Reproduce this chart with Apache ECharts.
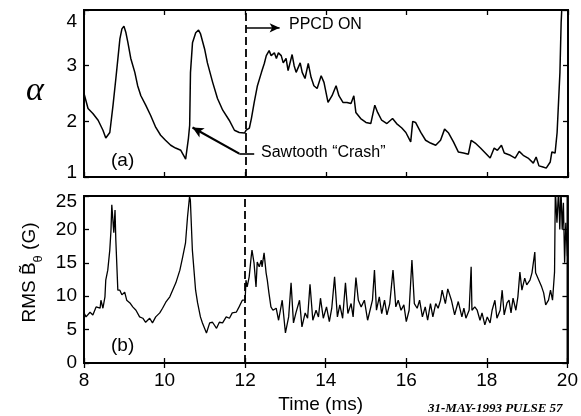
<!DOCTYPE html>
<html>
<head>
<meta charset="utf-8">
<script src="https://cdn.jsdelivr.net/npm/echarts@6/dist/echarts.min.js"></script>
<style>
  html, body { margin: 0; padding: 0; background: #fff; }
  #chart { width: 581px; height: 416px; }
</style>
</head>
<body>
<div id="chart"></div>
<script>
// panel (a): alpha vs time (ms)
var alphaTime = [8.00, 8.10, 8.22, 8.35, 8.47, 8.54, 8.64, 8.72, 8.79, 8.89, 8.94, 8.99, 9.04, 9.09, 9.16, 9.26, 9.33, 9.41, 9.53, 9.65,
  9.78, 9.90, 10.02, 10.15, 10.27, 10.40, 10.49, 10.52, 10.59, 10.62, 10.64, 10.69, 10.77, 10.84, 10.89, 10.99, 11.06, 11.19, 11.31, 11.44,
  11.60, 11.73, 11.85, 11.98, 12.02, 12.10, 12.15, 12.22, 12.30, 12.40, 12.47, 12.52, 12.59, 12.64, 12.72, 12.77, 12.82, 12.89, 12.94, 13.01,
  13.06, 13.16, 13.21, 13.26, 13.36, 13.41, 13.48, 13.56, 13.63, 13.70, 13.78, 13.88, 13.95, 14.05, 14.15, 14.25, 14.32, 14.42, 14.52, 14.62,
  14.69, 14.74, 14.86, 14.99, 15.11, 15.21, 15.28, 15.38, 15.51, 15.65, 15.75, 15.88, 15.98, 16.10, 16.15, 16.22, 16.35, 16.47, 16.59, 16.72,
  16.84, 16.94, 17.04, 17.16, 17.28, 17.41, 17.53, 17.60, 17.70, 17.83, 17.95, 18.07, 18.17, 18.25, 18.35, 18.42, 18.57, 18.69, 18.79, 18.89,
  19.01, 19.14, 19.21, 19.28, 19.38, 19.46, 19.56, 19.60, 19.68, 19.73, 19.80, 19.83, 19.87];
var alphaValue = [2.50, 2.23, 2.14, 2.02, 1.84, 1.70, 1.80, 2.29, 2.77, 3.48, 3.66, 3.71, 3.59, 3.41, 3.13, 2.88, 2.64, 2.46, 2.29, 2.11,
  1.89, 1.75, 1.66, 1.57, 1.52, 1.48, 1.36, 1.32, 1.70, 1.93, 2.88, 3.41, 3.59, 3.64, 3.57, 3.30, 3.05, 2.70, 2.41, 2.20,
  2.02, 1.84, 1.80, 1.79, 1.84, 1.88, 2.05, 2.34, 2.64, 2.88, 3.04, 3.18, 3.27, 3.18, 3.23, 3.13, 3.23, 3.18, 3.05, 3.13,
  2.91, 3.20, 3.00, 2.88, 3.05, 2.88, 2.77, 3.04, 2.79, 2.64, 2.59, 2.82, 2.70, 2.34, 2.46, 2.64, 2.46, 2.34, 2.34, 2.32,
  2.46, 2.16, 2.05, 1.98, 1.96, 2.29, 2.16, 2.02, 1.96, 2.05, 1.96, 1.88, 1.80, 1.63, 2.00, 1.98, 1.80, 1.66, 1.61, 1.57,
  1.66, 1.86, 1.79, 1.63, 1.45, 1.43, 1.41, 1.66, 1.61, 1.52, 1.43, 1.34, 1.52, 1.48, 1.57, 1.43, 1.39, 1.34, 1.46, 1.39,
  1.34, 1.25, 1.36, 1.20, 1.18, 1.16, 1.27, 1.45, 1.43, 1.80, 2.88, 3.77, 4.40];

// panel (b): RMS B-theta (G) vs time (ms)
var rmsTime = [8.00, 8.05, 8.15, 8.22, 8.30, 8.40, 8.42, 8.47, 8.52, 8.54, 8.59, 8.64, 8.67, 8.69, 8.74, 8.77, 8.79, 8.84, 8.89, 8.94,
  9.01, 9.06, 9.14, 9.21, 9.29, 9.38, 9.46, 9.53, 9.63, 9.70, 9.78, 9.88, 9.95, 10.03, 10.13, 10.20, 10.28, 10.38, 10.45, 10.52,
  10.57, 10.62, 10.64, 10.69, 10.77, 10.82, 10.89, 10.94, 11.04, 11.12, 11.19, 11.29, 11.36, 11.44, 11.53, 11.61, 11.68, 11.78, 11.85, 11.93,
  12.00, 12.02, 12.05, 12.10, 12.15, 12.17, 12.22, 12.27, 12.30, 12.35, 12.40, 12.42, 12.47, 12.52, 12.55, 12.59, 12.64, 12.69, 12.77, 12.83,
  12.92, 13.00, 13.08, 13.14, 13.20, 13.26, 13.35, 13.41, 13.49, 13.55, 13.61, 13.68, 13.76, 13.82, 13.87, 13.94, 14.02, 14.09, 14.15, 14.22,
  14.29, 14.35, 14.42, 14.49, 14.55, 14.63, 14.68, 14.75, 14.81, 14.88, 14.96, 15.04, 15.10, 15.16, 15.21, 15.26, 15.33, 15.39, 15.46, 15.52,
  15.59, 15.67, 15.74, 15.80, 15.87, 15.94, 16.00, 16.07, 16.14, 16.20, 16.27, 16.33, 16.40, 16.47, 16.53, 16.60, 16.66, 16.73, 16.79, 16.85,
  16.89, 16.97, 17.03, 17.12, 17.20, 17.29, 17.38, 17.43, 17.48, 17.56, 17.61, 17.63, 17.70, 17.76, 17.83, 17.88, 17.95,
  18.01, 18.08, 18.13, 18.20, 18.25, 18.33, 18.38, 18.43, 18.50, 18.55, 18.60, 18.65, 18.72, 18.77, 18.82, 18.87, 18.94, 18.99, 19.07, 19.12,
  19.19, 19.21, 19.29, 19.36, 19.41, 19.46, 19.53, 19.58, 19.63, 19.68, 19.70, 19.74, 19.78, 19.81, 19.84, 19.87, 19.90, 19.93, 19.96, 20.00];
var rmsValue = [7.5, 6.9, 7.6, 7.2, 8.4, 8.2, 9.4, 8.2, 9.9, 12.4, 13.9, 16.9, 19.9, 23.7, 19.5, 22.9, 18.4, 10.9, 10.9, 10.2,
  10.6, 9.4, 9.0, 8.4, 7.9, 6.9, 6.7, 6.1, 6.7, 6.0, 6.9, 7.5, 8.2, 9.1, 9.9, 10.9, 12.0, 13.9, 15.9, 18.0,
  21.9, 24.9, 24.4, 16.9, 10.9, 9.0, 6.9, 6.0, 4.5, 6.0, 6.1, 5.2, 6.1, 6.0, 6.9, 6.7, 7.5, 7.6, 8.4, 9.4,
  9.4, 12.4, 11.4, 12.9, 15.9, 16.9, 15.0, 11.4, 15.1, 14.4, 15.4, 14.4, 16.5, 13.5, 12.4, 10.5, 8.4, 7.9, 8.2, 6.4,
  9.4, 4.5, 6.9, 12.0, 6.0, 7.5, 9.4, 5.4, 7.5, 6.7, 11.8, 6.4, 7.9, 6.9, 9.7, 6.7, 8.4, 6.2, 8.2, 12.9,
  6.9, 8.7, 6.7, 12.0, 7.4, 8.9, 6.9, 12.8, 9.4, 8.4, 9.4, 6.4, 7.9, 9.4, 13.9, 7.9, 9.9, 7.4, 9.4, 7.2,
  8.9, 13.9, 8.4, 9.4, 7.9, 8.7, 6.2, 7.9, 15.4, 8.9, 8.2, 9.4, 6.9, 8.4, 6.4, 8.9, 6.9, 8.9, 8.2, 9.4,
  10.9, 8.9, 11.1, 9.4, 7.2, 9.2, 6.9, 8.2, 6.7, 7.9, 14.4, 7.9, 8.4, 7.9, 6.4, 7.5, 5.7,
  6.9, 6.0, 7.9, 9.4, 6.7, 7.9, 10.9, 7.2, 9.0, 9.4, 7.5, 9.7, 7.9, 9.9, 13.6, 10.9, 12.7, 11.7, 12.4, 13.5,
  16.6, 13.5, 12.4, 11.4, 10.5, 8.7, 9.4, 10.9, 9.4, 13.6, 26, 21, 26, 20, 26, 20, 24, 15, 21, 16];

var xTicks = [8, 10, 12, 14, 16, 18, 20];
var alphaTicks = [1, 2, 3, 4];
var rmsTicks = [0, 5, 10, 15, 20, 25];
var ppcdTime = 12;

var FONT = '"Liberation Sans", Arial, sans-serif';

function pairs(xs, ys) {
  var out = [];
  for (var i = 0; i < xs.length; i++) out.push([xs[i], ys[i]]);
  return out;
}

function xAxisDef(grid, pos, labels) {
  return {
    type: 'value', gridIndex: grid, position: pos,
    min: xTicks[0], max: xTicks[xTicks.length - 1], interval: 2,
    axisLine: { show: true, lineStyle: { color: '#000', width: 1.8 } },
    axisTick: { show: true, inside: true, length: 5, lineStyle: { color: '#000', width: 1.3 } },
    axisLabel: { show: labels, color: '#000', fontFamily: FONT, fontSize: 19, margin: 8 },
    splitLine: { show: false }
  };
}

function yAxisDef(grid, pos, ticks, labels, rich) {
  return {
    type: 'value', gridIndex: grid, position: pos,
    min: ticks[0], max: ticks[ticks.length - 1], interval: ticks[1] - ticks[0],
    axisLine: { show: true, lineStyle: { color: '#000', width: 1.8 } },
    axisTick: { show: true, inside: true, length: 5, lineStyle: { color: '#000', width: 1.3 } },
    axisLabel: {
      show: labels, color: '#000', fontFamily: FONT, fontSize: 19, margin: 7,
      formatter: rich ? rich.fmt : '{value}', rich: rich ? rich.styles : undefined
    },
    splitLine: { show: false }
  };
}

var chart = echarts.init(document.getElementById('chart'), null, { renderer: 'canvas' });

var rmsAxis = yAxisDef(1, 'left', rmsTicks, true, {
  fmt: function (v) { return v === 25 ? '{t|25}' : '{n|' + v + '}'; },
  styles: {
    t: { fontSize: 19, fontFamily: FONT, color: '#000', padding: [12, 0, 0, 0] },
    n: { fontSize: 19, fontFamily: FONT, color: '#000' }
  }
});
rmsAxis.name = '{n|RMS B\u0303}{s|\u03b8}{n| (G)}';
rmsAxis.nameLocation = 'middle';
rmsAxis.nameRotate = 90;
rmsAxis.nameGap = 44;
rmsAxis.nameTextStyle = {
  padding: [0, 0, 0, 14],
  rich: {
    n: { fontSize: 19, fontFamily: FONT, color: '#000', lineHeight: 22, verticalAlign: 'bottom' },
    s: { fontSize: 13, fontFamily: FONT, color: '#000', lineHeight: 22, verticalAlign: 'bottom', padding: [0, 0, -6, 0] }
  }
};

var bottomX = xAxisDef(1, 'bottom', true);
bottomX.name = 'Time (ms)';
bottomX.nameLocation = 'middle';
bottomX.nameGap = 32;
bottomX.nameTextStyle = { color: '#000', fontFamily: FONT, fontSize: 19, padding: [0, 10, 0, 0] };

var option = {
  animation: false,
  backgroundColor: '#fff',
  grid: [
    { left: 84, right: 13, top: 10, height: 167, show: true, borderColor: '#000', borderWidth: 1.8 },
    { left: 84, right: 13, top: 196, height: 167, show: true, borderColor: '#000', borderWidth: 1.8 }
  ],
  xAxis: [
    xAxisDef(0, 'bottom', false),
    xAxisDef(0, 'top', false),
    bottomX,
    xAxisDef(1, 'top', false)
  ],
  yAxis: [
    yAxisDef(0, 'left', alphaTicks, true, {
      fmt: function (v) {
        if (v === 4) return '{t|4}';
        if (v === 1) return '{b|1}';
        return '{n|' + v + '}';
      },
      styles: {
        t: { fontSize: 19, fontFamily: FONT, color: '#000', padding: [24, 0, 0, 0] },
        b: { fontSize: 19, fontFamily: FONT, color: '#000', padding: [0, 0, 8, 0] },
        n: { fontSize: 19, fontFamily: FONT, color: '#000' }
      }
    }),
    yAxisDef(0, 'right', alphaTicks, false),
    rmsAxis,
    yAxisDef(1, 'right', rmsTicks, false)
  ],
  series: [
    {
      name: 'alpha', type: 'line', xAxisIndex: 0, yAxisIndex: 0,
      data: pairs(alphaTime, alphaValue),
      showSymbol: false, clip: true,
      lineStyle: { color: '#000', width: 1.5 },
      markLine: {
        silent: true, symbol: ['none', 'none'], label: { show: false },
        lineStyle: { color: '#000', width: 1.6, type: 'solid' },
        data: [
          { xAxis: ppcdTime, lineStyle: { type: [8, 4], width: 1.8 } },
          [{ coord: [12.03, 3.68], symbol: 'none' }, { coord: [12.85, 3.68], symbol: 'arrow', symbolSize: [7, 10] }],
          [{ coord: [11.85, 1.41] }, { coord: [12.22, 1.41] }],
          [{ coord: [11.85, 1.42], lineStyle: { width: 2.2 } }, { coord: [10.69, 1.89], symbol: 'arrow', symbolSize: [8, 11] }]
        ]
      }
    },
    {
      name: 'rms', type: 'line', xAxisIndex: 2, yAxisIndex: 2,
      data: pairs(rmsTime, rmsValue),
      showSymbol: false, clip: true,
      lineStyle: { color: '#000', width: 1.3 },
      markLine: {
        silent: true, symbol: ['none', 'none'], label: { show: false },
        lineStyle: { color: '#000', width: 1.8, type: [8, 4] },
        data: [{ xAxis: ppcdTime }]
      }
    }
  ],
  graphic: [
    { type: 'text', left: 26, top: 74, style: { text: '\u03b1', font: 'italic 34px "Liberation Serif", serif', fill: '#000' } },
    { type: 'text', left: 289, top: 17, style: { text: 'PPCD ON', font: '16px ' + FONT, fill: '#000' } },
    { type: 'text', left: 261, top: 145, style: { text: 'Sawtooth \u201cCrash\u201d', font: '16px ' + FONT, fill: '#000' } },
    { type: 'text', left: 111, top: 151, style: { text: '(a)', font: '19px ' + FONT, fill: '#000' } },
    { type: 'text', left: 111, top: 336, style: { text: '(b)', font: '19px ' + FONT, fill: '#000' } },
    { type: 'text', left: 428, top: 402, style: { text: '31-MAY-1993 PULSE 57', font: 'italic bold 13px "Liberation Serif", serif', fill: '#000' } }
  ]
};

chart.setOption(option);
</script>
</body>
</html>
